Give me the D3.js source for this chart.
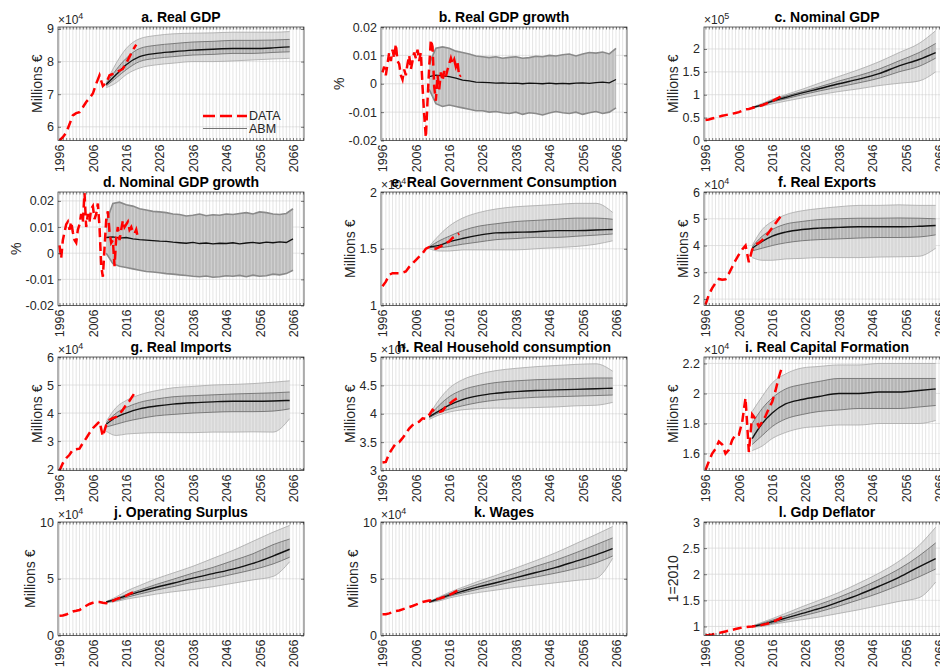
<!DOCTYPE html>
<html>
<head>
<meta charset="utf-8">
<style>
  body { margin: 0; background: #fff; }
  svg { font-family: "Liberation Sans", Arial, Helvetica, sans-serif; }
  .ttl { font-size: 14px; font-weight: bold; fill: #000; }
  .ylab { font-size: 14px; fill: #262626; }
  .expo { font-size: 12px; fill: #262626; }
  .leg { font-size: 12.5px; fill: #262626; }
</style>
</head>
<body>
<script src="https://cdn.jsdelivr.net/npm/d3@7"></script>
<script>
// ---- x positions (years) ----
var dataYears = [1996, 1997, 1998, 1999, 2000, 2001, 2002, 2003, 2004, 2005, 2006, 2007,
                 2008, 2009, 2010, 2011, 2012, 2013, 2014, 2015, 2016, 2017, 2018, 2019];
var halfYears = [1996, 1996.5, 1997, 1997.5, 1998, 1998.5, 1999, 1999.5, 2000, 2000.5, 2001, 2001.5,
                 2002, 2002.5, 2003, 2003.5, 2004, 2004.5, 2005, 2005.5, 2006, 2006.5, 2007, 2007.5,
                 2008, 2008.5, 2009, 2009.5, 2010, 2010.5, 2011, 2011.5, 2012, 2012.5, 2013, 2013.5,
                 2014, 2014.5, 2015, 2015.5, 2016, 2016.5, 2017, 2017.5, 2018, 2018.5, 2019, 2019.5];
var abmYears = [2010, 2013, 2016, 2020, 2025, 2030, 2036, 2042, 2048, 2054, 2060, 2065];
var abmYearsG = [2010, 2012, 2014, 2016, 2018, 2020, 2022, 2024, 2026, 2028, 2030, 2032, 2034, 2036, 2038,
                 2040, 2042, 2044, 2046, 2048, 2050, 2052, 2054, 2056, 2058, 2060, 2062, 2064, 2066];
var xTickLabels = [1996, 2006, 2016, 2026, 2036, 2046, 2056, 2066];

// ---- a. Real GDP (x1e4) ----
var realGdpData = [5.58, 5.68, 5.82, 6.08, 6.35, 6.42, 6.45, 6.6, 6.76, 6.88, 7.02, 7.32, 7.58, 7.25, 7.35, 7.58, 7.62, 7.68, 7.72, 7.78, 7.95, 8.15, 8.35, 8.52];
var realGdpLo   = [7.2, 7.35, 7.6, 7.8, 7.9, 7.95, 8.0, 8.0, 8.02, 8.05, 8.08, 8.1];
var realGdpInLo = [7.25, 7.5, 7.75, 8.0, 8.1, 8.15, 8.2, 8.22, 8.25, 8.25, 8.28, 8.3];
var realGdpMid  = [7.3, 7.6, 7.9, 8.15, 8.25, 8.3, 8.35, 8.38, 8.4, 8.4, 8.42, 8.45];
var realGdpInHi = [7.32, 7.75, 8.1, 8.4, 8.5, 8.55, 8.6, 8.62, 8.65, 8.65, 8.66, 8.68];
var realGdpHi   = [7.35, 7.95, 8.4, 8.7, 8.8, 8.85, 8.87, 8.88, 8.9, 8.9, 8.9, 8.92];

// ---- b. Real GDP growth ----
var gdpGrowthData = [0.004, 0.006, 0.003, 0.007, 0.011, 0.008, 0.012, 0.009, 0.014, 0.008, 0.007, 0.003,
                     0.0015, 0.005, 0.003, 0.007, 0.01, 0.005, 0.008, 0.011, 0.009, 0.012, 0.008, 0.011,
                     -0.001, -0.011, -0.019, -0.006, 0.006, 0.0155, 0.013, -0.001, -0.006, 0.003, -0.002, 0.004,
                     0.001, 0.0045, 0.0025, 0.005, 0.007, 0.009, 0.007, 0.0085, 0.006, 0.0075, 0.0025, 0.003];
var gdpGrowthLo  = [-0.002, -0.007, -0.008, -0.0075, -0.008, -0.0085, -0.009, -0.0095, -0.0095, -0.01, -0.0098, -0.0102, -0.0105, -0.01, -0.0108,
                    -0.0102, -0.0105, -0.011, -0.0103, -0.0098, -0.0102, -0.0105, -0.01, -0.0108, -0.0102, -0.0098, -0.0105, -0.01, -0.0085];
var gdpGrowthMid = [0.0025, 0.003, 0.0028, 0.0025, 0.002, 0.0013, 0.001, 0.0006, 0.0005, 0.0004, 0.0002, 0.0003, 0.0001, 0.0002, 0.0,
                    0.0002, 0.0001, 0.0, 0.0002, 0.0, 0.0001, 0.0, 0.0002, 0.0003, 0.0001, 0.0004, 0.0006, 0.0003, 0.0015];
var gdpGrowthHi  = [0.007, 0.0125, 0.013, 0.0125, 0.0115, 0.011, 0.0105, 0.0098, 0.0095, 0.0092, 0.0095, 0.009, 0.0093, 0.0095, 0.009,
                    0.0092, 0.0097, 0.0095, 0.01, 0.0098, 0.0102, 0.0105, 0.0098, 0.0105, 0.011, 0.0108, 0.0112, 0.0105, 0.0125];

// ---- c. Nominal GDP (x1e5) ----
var nomGdpData = [0.45, 0.46, 0.48, 0.5, 0.52, 0.54, 0.555, 0.57, 0.585, 0.6, 0.62, 0.65, 0.68, 0.69, 0.71, 0.73, 0.75, 0.77, 0.8, 0.83, 0.86, 0.9, 0.94, 0.98];
var nomGdpLo   = [0.71, 0.75, 0.8, 0.86, 0.93, 1.0, 1.07, 1.13, 1.2, 1.25, 1.3, 1.5];
var nomGdpInLo = [0.715, 0.77, 0.84, 0.91, 1.0, 1.08, 1.17, 1.26, 1.36, 1.5, 1.62, 1.8];
var nomGdpMid  = [0.72, 0.78, 0.86, 0.94, 1.04, 1.13, 1.24, 1.34, 1.46, 1.63, 1.77, 1.92];
var nomGdpInHi = [0.725, 0.79, 0.88, 0.97, 1.07, 1.17, 1.3, 1.42, 1.56, 1.74, 1.92, 2.12];
var nomGdpHi   = [0.73, 0.81, 0.9, 1.0, 1.12, 1.25, 1.4, 1.55, 1.72, 1.92, 2.12, 2.4];

// ---- d. Nominal GDP growth ----
var nomGrowthData = [0.003, -0.002, 0.005, 0.008, 0.011, 0.012, 0.009, 0.012, 0.008, 0.005, 0.004, 0.009,
                     0.011, 0.015, 0.012, 0.023, 0.01, 0.015, 0.012, 0.017, 0.018, 0.013, 0.015, 0.019,
                     0.01, -0.005, -0.009, 0.002, 0.0127, 0.016, 0.008, 0.004, 0.005, -0.005, 0.006, 0.01,
                     0.005, 0.009, 0.0125, 0.01, 0.011, 0.012, 0.009, 0.01, 0.008, 0.0075, 0.009, 0.006];
var nomGrowthLo  = [0.0, -0.004, -0.005, -0.0055, -0.006, -0.0065, -0.007, -0.0072, -0.0075, -0.0078, -0.008, -0.0083, -0.0085, -0.0088, -0.009,
                    -0.0087, -0.0092, -0.009, -0.0086, -0.0088, -0.0085, -0.009, -0.0084, -0.0088, -0.0086, -0.008, -0.0083, -0.0078, -0.0065];
var nomGrowthMid = [0.006, 0.0062, 0.0058, 0.006, 0.0055, 0.0052, 0.005, 0.0048, 0.0046, 0.0045, 0.0042, 0.004, 0.0038, 0.0041, 0.0037,
                    0.0039, 0.0036, 0.0038, 0.0037, 0.004, 0.0036, 0.0039, 0.0041, 0.0038, 0.0042, 0.004, 0.0043, 0.0041, 0.0055];
var nomGrowthHi  = [0.012, 0.019, 0.0195, 0.0185, 0.018, 0.017, 0.0165, 0.016, 0.0158, 0.0155, 0.015, 0.0148, 0.0142, 0.0145, 0.015,
                    0.0143, 0.0147, 0.0145, 0.015, 0.0148, 0.0152, 0.0155, 0.015, 0.0158, 0.0155, 0.015, 0.0148, 0.0152, 0.017];

// ---- e. Real Government Consumption (x1e4) ----
var govData = [1.17, 1.21, 1.27, 1.285, 1.285, 1.285, 1.29, 1.3, 1.34, 1.37, 1.4, 1.43, 1.46, 1.5, 1.515, 1.506, 1.5, 1.515, 1.53, 1.55, 1.565, 1.595, 1.615, 1.633];
var govLo   = [1.5, 1.48, 1.48, 1.49, 1.49, 1.49, 1.49, 1.5, 1.51, 1.52, 1.54, 1.57];
var govInLo = [1.51, 1.51, 1.52, 1.54, 1.56, 1.58, 1.59, 1.6, 1.6, 1.61, 1.62, 1.63];
var govMid  = [1.515, 1.53, 1.56, 1.59, 1.62, 1.64, 1.645, 1.65, 1.66, 1.66, 1.665, 1.67];
var govInHi = [1.515, 1.57, 1.61, 1.66, 1.7, 1.72, 1.74, 1.75, 1.76, 1.77, 1.77, 1.76];
var govHi   = [1.52, 1.62, 1.7, 1.77, 1.82, 1.85, 1.87, 1.88, 1.89, 1.9, 1.9, 1.82];

// ---- f. Real Exports (x1e4) ----
var expData = [1.79, 2.16, 2.41, 2.6, 2.75, 2.72, 2.74, 2.95, 3.2, 3.45, 3.66, 3.85, 4.0, 3.38, 3.85, 4.04, 4.1, 4.2, 4.33, 4.5, 4.66, 4.83, 5.0, 5.16];
var expLo   = [3.55, 3.45, 3.45, 3.5, 3.52, 3.55, 3.55, 3.55, 3.57, 3.58, 3.6, 3.9];
var expInLo = [3.8, 3.9, 4.0, 4.1, 4.18, 4.22, 4.25, 4.28, 4.3, 4.3, 4.32, 4.4];
var expMid  = [3.9, 4.15, 4.35, 4.5, 4.6, 4.65, 4.68, 4.7, 4.7, 4.7, 4.72, 4.75];
var expInHi = [3.95, 4.35, 4.6, 4.8, 4.9, 4.97, 5.0, 5.02, 5.02, 5.03, 5.02, 5.0];
var expHi   = [4.0, 4.6, 4.9, 5.15, 5.3, 5.38, 5.45, 5.5, 5.5, 5.52, 5.5, 5.5];

// ---- g. Real Imports (x1e4) ----
var impData = [1.95, 2.21, 2.39, 2.51, 2.69, 2.71, 2.73, 2.93, 3.1, 3.29, 3.46, 3.58, 3.7, 3.17, 3.58, 3.76, 3.82, 3.86, 3.96, 4.12, 4.3, 4.44, 4.62, 4.8];
var impLo   = [3.35, 3.2, 3.25, 3.28, 3.3, 3.3, 3.3, 3.32, 3.32, 3.33, 3.32, 3.8];
var impInLo = [3.5, 3.6, 3.7, 3.8, 3.9, 3.95, 4.0, 4.03, 4.05, 4.05, 4.07, 4.15];
var impMid  = [3.6, 3.85, 4.0, 4.15, 4.25, 4.32, 4.37, 4.4, 4.42, 4.42, 4.43, 4.45];
var impInHi = [3.65, 4.0, 4.2, 4.38, 4.5, 4.58, 4.62, 4.65, 4.68, 4.7, 4.72, 4.75];
var impHi   = [3.7, 4.2, 4.45, 4.65, 4.8, 4.9, 4.95, 5.0, 5.02, 5.05, 5.1, 5.15];

// ---- h. Real Household consumption (x1e4) ----
var hhData = [3.14, 3.15, 3.3, 3.39, 3.48, 3.5, 3.57, 3.65, 3.74, 3.8, 3.84, 3.86, 3.92, 3.91, 3.98, 4.07, 4.03, 4.03, 4.05, 4.13, 4.17, 4.22, 4.26, 4.3];
var hhLo   = [3.9, 3.98, 4.03, 4.07, 4.09, 4.1, 4.1, 4.11, 4.12, 4.14, 4.15, 4.2];
var hhInLo = [3.93, 4.02, 4.08, 4.14, 4.2, 4.24, 4.27, 4.29, 4.3, 4.31, 4.32, 4.33];
var hhMid  = [3.95, 4.05, 4.15, 4.25, 4.32, 4.36, 4.39, 4.41, 4.42, 4.43, 4.44, 4.45];
var hhInHi = [3.96, 4.15, 4.3, 4.42, 4.5, 4.55, 4.58, 4.6, 4.61, 4.62, 4.63, 4.63];
var hhHi   = [3.98, 4.25, 4.45, 4.6, 4.7, 4.76, 4.8, 4.83, 4.85, 4.87, 4.88, 4.75];

// ---- i. Real Capital Formation (x1e4) ----
var capData = [1.49, 1.547, 1.6, 1.63, 1.68, 1.66, 1.6, 1.625, 1.69, 1.725, 1.725, 1.81, 1.97, 1.61, 1.86, 1.83, 1.78, 1.81, 1.85, 1.9, 1.945, 2.02, 2.11, 2.18];
var capLo   = [1.62, 1.65, 1.7, 1.74, 1.77, 1.78, 1.79, 1.79, 1.8, 1.8, 1.8, 1.82];
var capInLo = [1.66, 1.72, 1.78, 1.83, 1.86, 1.88, 1.89, 1.9, 1.9, 1.9, 1.91, 1.92];
var capMid  = [1.7, 1.8, 1.87, 1.93, 1.96, 1.98, 2.0, 2.0, 2.01, 2.01, 2.02, 2.03];
var capInHi = [1.8, 1.9, 1.97, 2.03, 2.06, 2.08, 2.1, 2.1, 2.1, 2.1, 2.1, 2.1];
var capHi   = [1.88, 1.98, 2.07, 2.13, 2.17, 2.18, 2.19, 2.19, 2.2, 2.2, 2.2, 2.2];

// ---- j. Operating Surplus (x1e4) ----
var surplusData = [1.74, 1.76, 1.85, 2.0, 2.12, 2.18, 2.25, 2.45, 2.62, 2.78, 2.88, 2.95, 2.95, 2.88, 2.85, 2.88, 3.05, 3.2, 3.3, 3.4, 3.52, 3.66, 3.8, 3.95];
var surplusLo   = [2.9, 3.0, 3.2, 3.4, 3.65, 3.85, 4.05, 4.3, 4.6, 4.9, 5.2, 6.5];
var surplusInLo = [2.93, 3.08, 3.35, 3.65, 4.0, 4.3, 4.7, 5.0, 5.4, 5.8, 6.3, 6.9];
var surplusMid  = [2.95, 3.2, 3.5, 3.85, 4.25, 4.6, 5.05, 5.45, 5.85, 6.35, 7.0, 7.6];
var surplusInHi = [2.97, 3.25, 3.6, 4.0, 4.5, 4.95, 5.5, 6.0, 6.6, 7.2, 8.0, 8.5];
var surplusHi   = [3.0, 3.4, 3.9, 4.4, 5.0, 5.5, 6.1, 6.8, 7.5, 8.3, 9.1, 9.7];

// ---- k. Wages (x1e4) ----
var wagesData = [1.87, 1.88, 1.95, 2.05, 2.15, 2.2, 2.3, 2.4, 2.5, 2.6, 2.72, 2.85, 2.95, 3.02, 3.08, 3.1, 3.18, 3.25, 3.35, 3.45, 3.58, 3.72, 3.88, 4.08];
var wagesLo   = [2.9, 3.05, 3.3, 3.55, 3.8, 4.0, 4.25, 4.45, 4.65, 4.85, 5.05, 6.8];
var wagesInLo = [2.93, 3.15, 3.45, 3.75, 4.1, 4.4, 4.8, 5.15, 5.5, 5.9, 6.4, 7.0];
var wagesMid  = [2.95, 3.25, 3.55, 3.9, 4.3, 4.65, 5.1, 5.55, 6.0, 6.55, 7.1, 7.65];
var wagesInHi = [2.97, 3.32, 3.68, 4.08, 4.55, 5.0, 5.5, 6.1, 6.65, 7.3, 8.0, 8.6];
var wagesHi   = [3.0, 3.4, 3.8, 4.25, 4.8, 5.3, 5.95, 6.6, 7.3, 8.1, 8.9, 9.6];

// ---- l. Gdp Deflator (1=2010) ----
var deflData = [0.83, 0.835, 0.845, 0.86, 0.875, 0.89, 0.905, 0.92, 0.935, 0.95, 0.965, 0.98, 0.99, 0.995, 1.0, 1.01, 1.02, 1.03, 1.045, 1.06, 1.08, 1.11, 1.14, 1.18];
var deflLo   = [0.99, 1.0, 1.04, 1.08, 1.13, 1.18, 1.25, 1.32, 1.4, 1.48, 1.55, 1.85];
var deflInLo = [0.995, 1.02, 1.06, 1.12, 1.2, 1.28, 1.39, 1.51, 1.64, 1.79, 1.95, 2.1];
var deflMid  = [1.0, 1.04, 1.09, 1.16, 1.25, 1.34, 1.47, 1.61, 1.77, 1.94, 2.14, 2.3];
var deflInHi = [1.005, 1.06, 1.12, 1.2, 1.31, 1.42, 1.56, 1.72, 1.9, 2.1, 2.35, 2.6];
var deflHi   = [1.01, 1.08, 1.15, 1.25, 1.38, 1.5, 1.65, 1.83, 2.02, 2.25, 2.55, 2.9];

// ---- panel table ----
var M = "Millions \u20ac";
var panels = [
  {title: "a. Real GDP", ylab: M, exp: 4, y: [5.58, 9.06], ticks: [6, 7, 8, 9], data: realGdpData,
   band: [realGdpLo, realGdpInLo, realGdpMid, realGdpInHi, realGdpHi], legend: true},
  {title: "b. Real GDP growth", ylab: "%", y: [-0.02, 0.02], ticks: [-0.02, -0.01, 0, 0.01, 0.02], growth: true,
   data: gdpGrowthData, band: [gdpGrowthLo, gdpGrowthMid, gdpGrowthHi]},
  {title: "c. Nominal GDP", ylab: M, exp: 5, y: [0, 2.48], ticks: [0, 0.5, 1, 1.5, 2], data: nomGdpData,
   band: [nomGdpLo, nomGdpInLo, nomGdpMid, nomGdpInHi, nomGdpHi]},
  {title: "d. Nominal GDP growth", ylab: "%", y: [-0.02, 0.0234], ticks: [-0.02, -0.01, 0, 0.01, 0.02], growth: true,
   data: nomGrowthData, band: [nomGrowthLo, nomGrowthMid, nomGrowthHi]},
  {title: "e. Real Government Consumption", ylab: M, exp: 4, y: [1, 2], ticks: [1, 1.5, 2], data: govData,
   band: [govLo, govInLo, govMid, govInHi, govHi]},
  {title: "f. Real Exports", ylab: M, exp: 4, y: [1.76, 6], ticks: [2, 3, 4, 5, 6], data: expData,
   band: [expLo, expInLo, expMid, expInHi, expHi]},
  {title: "g. Real Imports", ylab: M, exp: 4, y: [1.95, 6], ticks: [2, 3, 4, 5, 6], data: impData,
   band: [impLo, impInLo, impMid, impInHi, impHi]},
  {title: "h. Real Household consumption", ylab: M, exp: 4, y: [3, 5], ticks: [3, 3.5, 4, 4.5, 5], data: hhData,
   band: [hhLo, hhInLo, hhMid, hhInHi, hhHi]},
  {title: "i. Real Capital Formation", ylab: M, exp: 4, y: [1.487, 2.243], ticks: [1.6, 1.8, 2, 2.2], data: capData,
   band: [capLo, capInLo, capMid, capInHi, capHi]},
  {title: "j. Operating Surplus", ylab: M, exp: 4, y: [0, 10], ticks: [0, 5, 10], data: surplusData,
   band: [surplusLo, surplusInLo, surplusMid, surplusInHi, surplusHi]},
  {title: "k. Wages", ylab: M, exp: 4, y: [0, 10], ticks: [0, 5, 10], data: wagesData,
   band: [wagesLo, wagesInLo, wagesMid, wagesInHi, wagesHi]},
  {title: "l. Gdp Deflator", ylab: "1=2010", y: [0.827, 3], ticks: [1, 1.5, 2, 2.5, 3], data: deflData,
   band: [deflLo, deflInLo, deflMid, deflInHi, deflHi]}
];

// ---- layout ----
var colX = [58, 381, 704], rowY = [27, 192, 357, 522];
var pw = 246, ph = 113.5;
var axisCol = "#262626";
var gridYears = d3.range(1996, 2070);

var svg = d3.select("body").append("svg").attr("width", 940).attr("height", 670);

panels.forEach(function(p, i) {
  var left = colX[i % 3], top = rowY[Math.floor(i / 3)];
  var g = svg.append("g").attr("transform", "translate(" + left + "," + top + ")");
  var x = d3.scaleLinear().domain([1995.55, 2069.3]).range([0, pw]);
  var y = d3.scaleLinear().domain(p.y).range([ph, 0]);

  g.append("clipPath").attr("id", "clip" + i)
    .append("rect").attr("width", pw).attr("height", ph);
  var plot = g.append("g").attr("clip-path", "url(#clip" + i + ")");
  plot.append("rect").attr("width", pw).attr("height", ph).attr("fill", "#fff");

  // grid
  plot.selectAll(".vg").data(gridYears).enter().append("line")
    .attr("x1", function(d) { return x(d); }).attr("x2", function(d) { return x(d); })
    .attr("y1", 0).attr("y2", ph)
    .attr("stroke", "#dadada").attr("stroke-width", 0.7);
  plot.selectAll(".hg").data(p.ticks).enter().append("line")
    .attr("x1", 0).attr("x2", pw)
    .attr("y1", function(d) { return y(d); }).attr("y2", function(d) { return y(d); })
    .attr("stroke", "#d6d6d6").attr("stroke-width", 0.7);

  // ABM ensemble
  if (p.growth) {
    var rows = abmYearsG.map(function(t, k) { return {t: t, lo: p.band[0][k], mid: p.band[1][k], hi: p.band[2][k]}; });
    plot.append("path").datum(rows)
      .attr("d", d3.area().x(function(d) { return x(d.t); })
        .y0(function(d) { return y(d.lo); }).y1(function(d) { return y(d.hi); }))
      .attr("fill", "#bdbdbd");
    stripes(plot, x, rows[0].t);
    ["lo", "hi"].forEach(function(key) {
      plot.append("path").datum(rows)
        .attr("d", d3.line().x(function(d) { return x(d.t); }).y(function(d) { return y(d[key]); }))
        .attr("fill", "none").attr("stroke", "#8a8a8a").attr("stroke-width", 1.6);
    });
    plot.append("path").datum(rows)
      .attr("d", d3.line().x(function(d) { return x(d.t); }).y(function(d) { return y(d.mid); }))
      .attr("fill", "none").attr("stroke", "#111").attr("stroke-width", 1.3);
  } else {
    var rowsL = abmYears.map(function(t, k) {
      return {t: t, lo: p.band[0][k], ilo: p.band[1][k], mid: p.band[2][k], ihi: p.band[3][k], hi: p.band[4][k]};
    });
    var area = function(a, b) {
      return d3.area().curve(d3.curveMonotoneX).x(function(d) { return x(d.t); })
        .y0(function(d) { return y(d[a]); }).y1(function(d) { return y(d[b]); });
    };
    plot.append("path").datum(rowsL).attr("d", area("lo", "hi")).attr("fill", "#d8d8d8");
    plot.append("path").datum(rowsL).attr("d", area("ilo", "ihi")).attr("fill", "#b4b4b4");
    stripes(plot, x, rowsL[0].t);
    [["lo", "#a8a8a8", 0.8], ["hi", "#a8a8a8", 0.8], ["ilo", "#707070", 0.9], ["ihi", "#707070", 0.9], ["mid", "#111", 1.4]]
      .forEach(function(s) {
        plot.append("path").datum(rowsL)
          .attr("d", d3.line().curve(d3.curveMonotoneX).x(function(d) { return x(d.t); }).y(function(d) { return y(d[s[0]]); }))
          .attr("fill", "none").attr("stroke", s[1]).attr("stroke-width", s[2]);
      });
  }

  // data (red dashed)
  var yrs = p.growth ? halfYears : dataYears;
  plot.append("path").datum(p.data)
    .attr("d", d3.line().x(function(d, k) { return x(yrs[k]); }).y(function(d) { return y(d); }))
    .attr("fill", "none").attr("stroke", "#ff0000").attr("stroke-width", 2.5)
    .attr("stroke-dasharray", "9,5");

  // axes
  var yAx = g.append("g").call(d3.axisLeft(y).tickValues(p.ticks).tickSize(-3).tickPadding(4).tickFormat(function(d) { return String(d); }));
  g.append("g").attr("transform", "translate(" + pw + ",0)")
    .call(d3.axisRight(y).tickValues(p.ticks).tickSize(-3).tickFormat(""));
  var xAx = g.append("g").attr("transform", "translate(0," + ph + ")")
    .call(d3.axisBottom(x).tickValues(xTickLabels).tickSize(0).tickFormat(function(d) { return String(d); }));
  g.append("g").attr("transform", "translate(0," + ph + ")")
    .call(d3.axisBottom(x).tickValues(gridYears).tickSize(-2.5).tickFormat(""));
  g.append("g").call(d3.axisTop(x).tickValues(gridYears).tickSize(-2.5).tickFormat(""));
  g.selectAll(".domain").remove();
  g.selectAll(".tick line").attr("stroke", axisCol).attr("stroke-width", 0.6);
  [yAx, xAx].forEach(function(a) { a.attr("font-size", 12.5).attr("font-family", null); });
  g.selectAll(".tick text").attr("fill", axisCol);
  xAx.selectAll("text")
    .attr("transform", "rotate(-90)").attr("x", -4).attr("y", 0).attr("dy", "0.35em")
    .style("text-anchor", "end");

  g.append("rect").attr("width", pw).attr("height", ph)
    .attr("fill", "none").attr("stroke", axisCol).attr("stroke-width", 0.7);

  // y label
  var maxW = d3.max(yAx.selectAll("text").nodes(), function(n) { return n.getComputedTextLength(); });
  g.append("text").attr("class", "ylab")
    .attr("transform", "translate(" + (-(maxW + 9)) + "," + (ph / 2) + ") rotate(-90)")
    .attr("text-anchor", "middle").text(p.ylab);

  // exponent
  if (p.exp) {
    var ex = g.append("text").attr("class", "expo").attr("x", 0).attr("y", -3);
    ex.append("tspan").text("\u00d710");
    ex.append("tspan").attr("dy", -5).attr("font-size", 9).text(p.exp);
  }

  // title
  g.append("text").attr("class", "ttl").attr("x", pw / 2).attr("y", -5.5)
    .attr("text-anchor", "middle").text(p.title);

  // legend
  if (p.legend) {
    var lg = g.append("g");
    lg.append("line").attr("x1", 145).attr("x2", 189).attr("y1", 89).attr("y2", 89)
      .attr("stroke", "#ff0000").attr("stroke-width", 2.5).attr("stroke-dasharray", "12,5");
    lg.append("line").attr("x1", 145).attr("x2", 189).attr("y1", 101.5).attr("y2", 101.5)
      .attr("stroke", "#666").attr("stroke-width", 0.9);
    lg.append("text").attr("class", "leg").attr("x", 191).attr("y", 89).attr("dy", "0.35em").text("DATA");
    lg.append("text").attr("class", "leg").attr("x", 191).attr("y", 101.5).attr("dy", "0.35em").text("ABM");
  }
});

// light vertical stripes over the ensemble shading, half a year off the grid
function stripes(plot, x, start) {
  plot.selectAll(".st").data(gridYears.filter(function(d) { return d >= start; })).enter().append("line")
    .attr("x1", function(d) { return x(d + 0.5); }).attr("x2", function(d) { return x(d + 0.5); })
    .attr("y1", 0).attr("y2", ph)
    .attr("stroke", "#fff").attr("stroke-opacity", 0.45).attr("stroke-width", 0.8);
}
</script>
</body>
</html>
